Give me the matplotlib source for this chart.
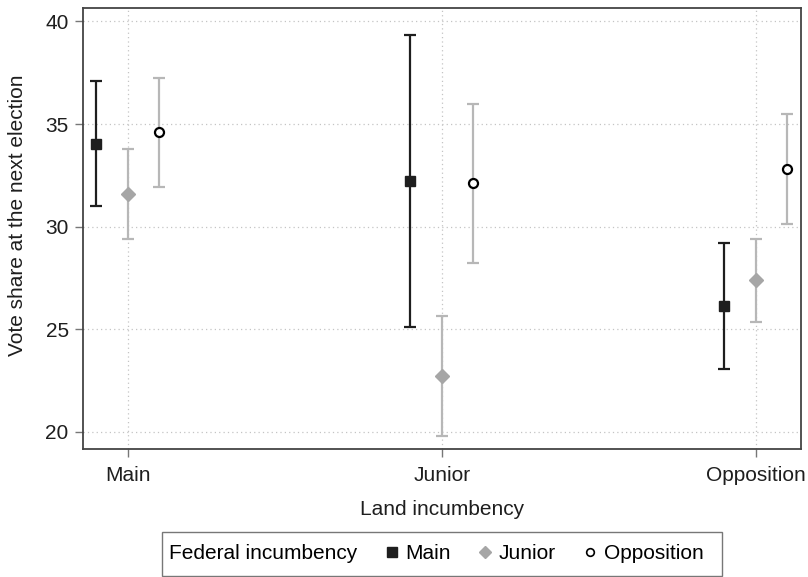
import numpy as np
import matplotlib.pyplot as plt
from matplotlib.lines import Line2D
from matplotlib.offsetbox import HPacker, DrawingArea

plt.rcParams['font.family'] = ['Liberation Sans', 'DejaVu Sans']

# land incumbency categories on the x axis
land = ["Main", "Junior", "Opposition"]

# federal incumbency series: point estimate and 95% interval per land category
main_est = [34.02, 32.22, 26.13]
main_lo = [31.0, 25.11, 23.06]
main_hi = [37.09, 39.35, 29.2]

junior_est = [31.6, 22.72, 27.42]
junior_lo = [29.4, 19.82, 25.35]
junior_hi = [33.77, 25.65, 29.42]

opp_est = [34.59, 32.14, 32.82]
opp_lo = [31.94, 28.24, 30.15]
opp_hi = [37.22, 35.97, 35.48]

fs = 15

fig = plt.figure(figsize=(8.08, 5.77), dpi=100)
ax = fig.add_axes([0.1027, 0.2218, 0.8883, 0.7642])

x = np.arange(len(land))
dark = "#1e1e1e"
grey_mk = "#a6a6a6"
grey_ln = "#b7b7b7"


def draw(offset, est, lo, hi, lcolor, mkw):
    est = np.array(est)
    err = [est - np.array(lo), np.array(hi) - est]
    ax.errorbar(x + offset, est, yerr=err, fmt="none", ecolor=lcolor,
                elinewidth=1.6, capsize=4, capthick=1.6, zorder=3)
    ax.plot(x + offset, est, linestyle="none", zorder=4, **mkw)


draw(-0.1, main_est, main_lo, main_hi, dark,
     dict(marker="s", markersize=7.5, color=dark))
draw(0.0, junior_est, junior_lo, junior_hi, grey_ln,
     dict(marker="D", markersize=7.5, color=grey_mk))
draw(0.1, opp_est, opp_lo, opp_hi, grey_ln,
     dict(marker="o", markersize=6.5, markerfacecolor="white",
          markeredgecolor="black", markeredgewidth=1.6))

ax.set_xlim(-0.143, 2.143)
ax.set_ylim(19.17, 40.65)
ax.set_xticks(x)
ax.set_xticklabels(land)
ax.set_yticks([20, 25, 30, 35, 40])
ax.grid(True, linestyle=(0, (1, 2.5)), color="#c4c4c4", linewidth=0.9)
ax.set_axisbelow(True)
ax.tick_params(axis="both", labelsize=fs, length=5.8, width=1.0,
               color="#777777", labelcolor="#1e1e1e")
ax.tick_params(axis="x", pad=6.5)
ax.tick_params(axis="y", pad=4.5)

for s in ax.spines.values():
    s.set_color("#444444")
    s.set_linewidth(1.3)

ax.set_xlabel("Land incumbency", fontsize=fs, labelpad=11, color="#1e1e1e")
ax.set_ylabel("Vote share at the next election", fontsize=fs,
              color="#1e1e1e")
ax.yaxis.set_label_coords(-0.078, 0.531)

handles = [
    Line2D([], [], linestyle="none", marker="s", markersize=6.5, color=dark),
    Line2D([], [], linestyle="none", marker="D", markersize=6, color=grey_mk),
    Line2D([], [], linestyle="none", marker="o", markersize=5.5,
           markerfacecolor="white", markeredgecolor="black",
           markeredgewidth=1.2),
]
labels = ["Main", "Junior", "Opposition"]
leg = fig.legend(handles, labels, loc="center", ncol=3,
                 bbox_to_anchor=(0.547, 0.04), fontsize=fs,
                 title="Federal incumbency", title_fontsize=fs,
                 frameon=True, fancybox=False, handlelength=0.6,
                 handletextpad=0.35, columnspacing=1.35, borderpad=0.35)
leg.get_frame().set_edgecolor("#555555")
leg.get_frame().set_linewidth(1.0)

# put the legend title on the same row as the entries, with extra room on the right
row = HPacker(pad=0, sep=1.35 * fs, align="baseline",
              children=[leg._legend_title_box, leg._legend_handle_box])
box = HPacker(pad=0.35 * fs, sep=0, align="center",
              children=[row, DrawingArea(8.5, 21.2)])
box.set_figure(fig)
leg._legend_box = box
box.set_offset(leg._findoffset)

fig.savefig("out.png", dpi=100)
